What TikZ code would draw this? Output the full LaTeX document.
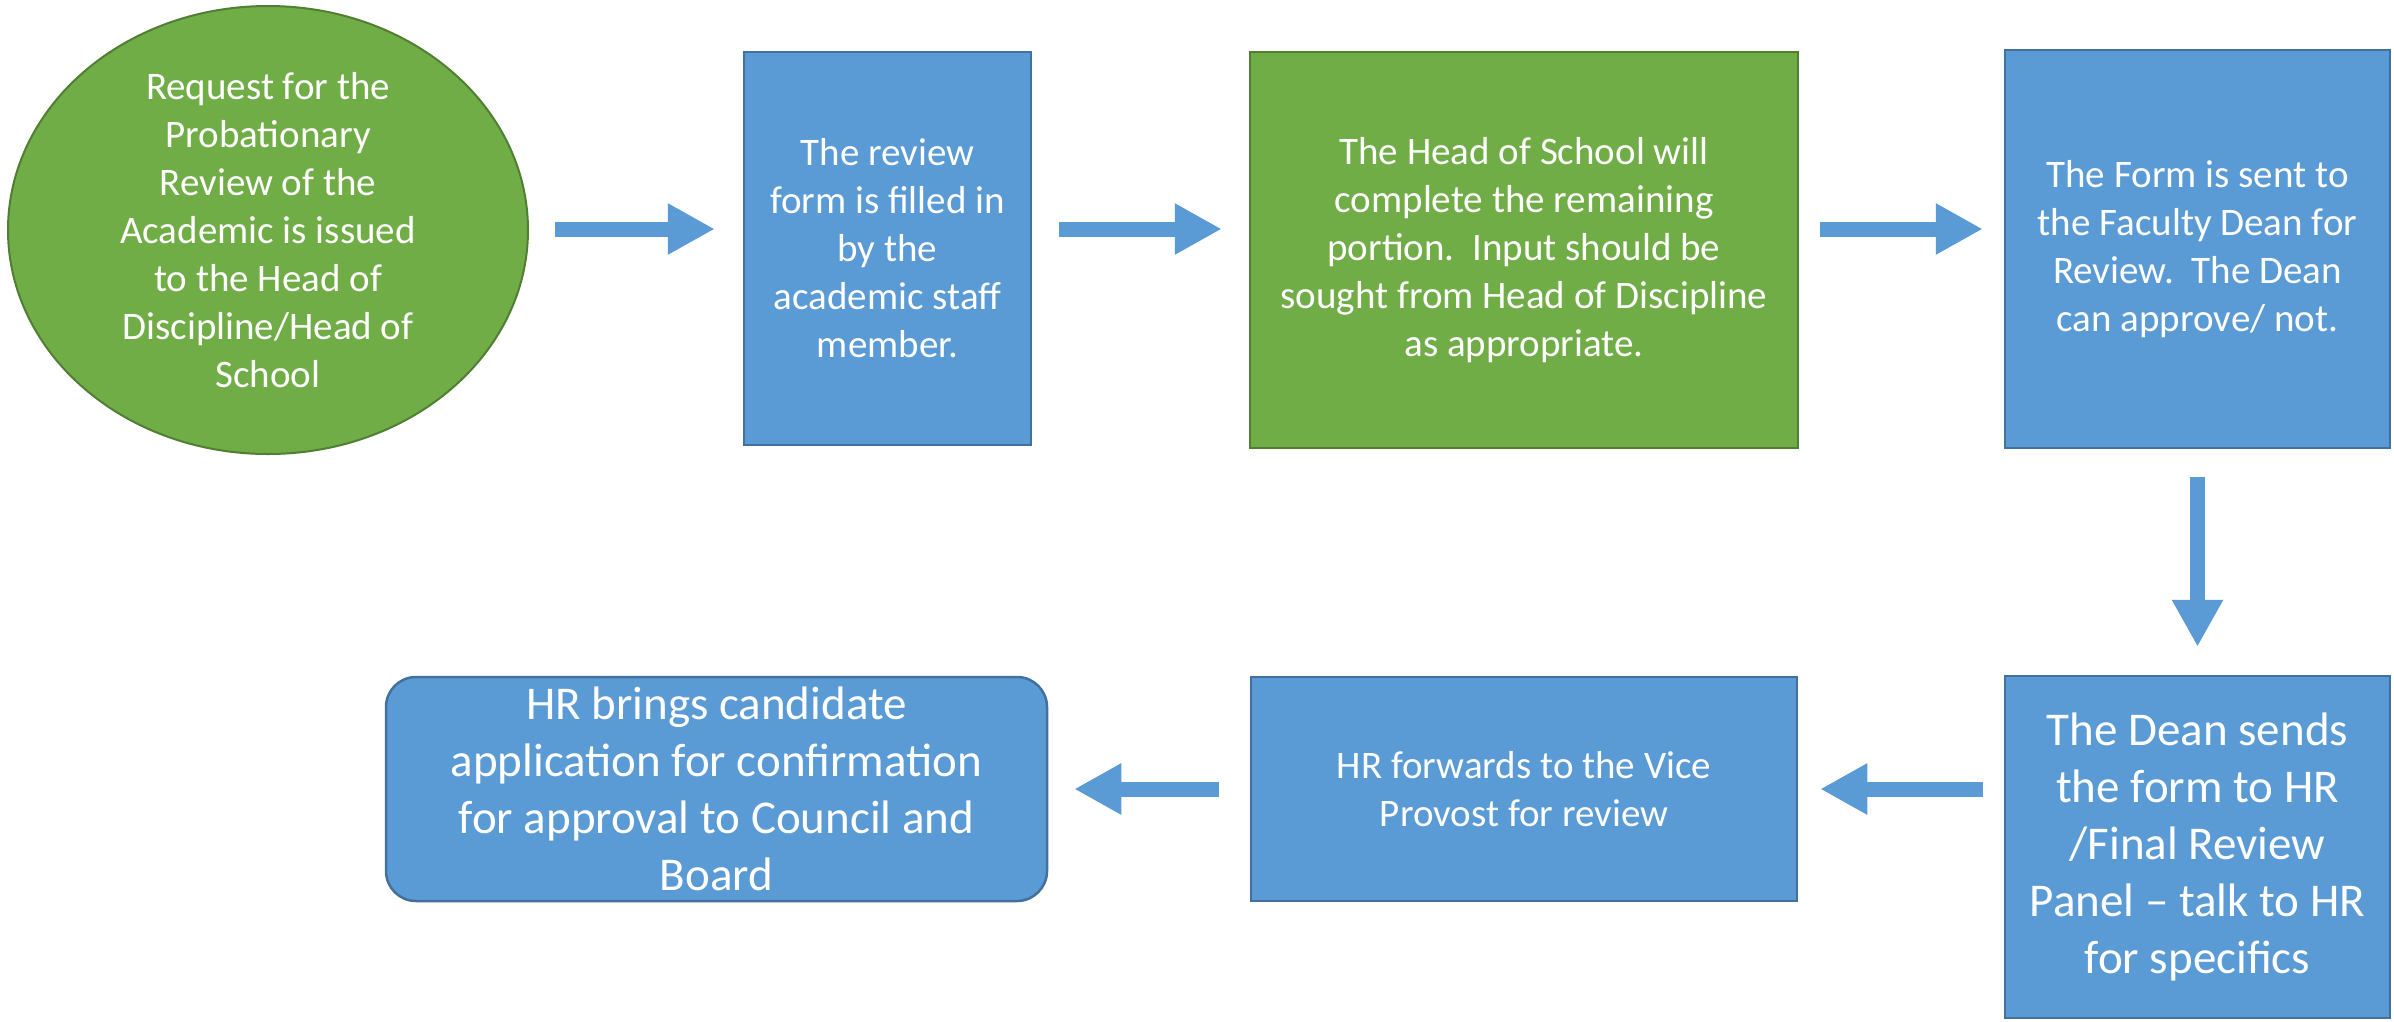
\documentclass[tikz,border=0pt]{standalone}
\usepackage{fontspec}
\setmainfont{Carlito}
\usetikzlibrary{shapes.geometric,arrows.meta}

\definecolor{boxblue}{HTML}{5B9BD5}
\definecolor{boxblueline}{HTML}{41719C}
\definecolor{boxgreen}{HTML}{70AD47}
\definecolor{boxgreenline}{HTML}{507E32}

\tikzset{
  txt/.style={text=white, align=center, inner sep=0pt, font=\fontsize{39}{48}\selectfont},
  bigtxt/.style={text=white, align=center, inner sep=0pt, font=\fontsize{47}{57}\selectfont},
  bluebox/.style={rectangle, fill=boxblue, draw=boxblueline, line width=2.5pt, inner sep=0pt},
  greenbox/.style={rectangle, fill=boxgreen, draw=boxgreenline, line width=2.5pt, inner sep=0pt},
  flowarrow/.style={draw=boxblue, line width=15pt, -{Triangle[length=47pt,width=48pt]}},
}

\begin{document}
\begin{tikzpicture}[x=1pt,y=-1pt]
\useasboundingbox[fill=white] (0,0) rectangle (2394,1021);

% top row
\node[ellipse, fill=boxgreen, draw=boxgreenline, line width=2pt, inner sep=0pt,
      minimum width=520pt, minimum height=448pt] (request) at (268,230) {};
\node[txt] (requestText) at (request.center)
  {Request for the\\Probationary\\Review of the\\Academic is issued\\to the Head of\\Discipline/Head of\\School};

\node[bluebox, txt, minimum width=287pt, minimum height=393pt] (form) at (887.5,248.5)
  {The review\\form is filled in\\by the\\academic staff\\member.};

\node[greenbox, txt, minimum width=548pt, minimum height=396pt] (head) at (1524,250)
  {The Head of School will\\complete the remaining\\portion.\ \ Input should be\\sought from Head of Discipline\\as appropriate.};

\node[bluebox, txt, minimum width=385pt, minimum height=398pt] (dean) at (2197.5,249)
  {The Form is sent to\\the Faculty Dean for\\Review.\ \ The Dean\\can approve/ not.};

% bottom row
\node[bluebox, bigtxt, minimum width=385pt, minimum height=342pt] (sends) at (2197.5,847)
  {The Dean sends\\the form to HR\\/Final Review\\Panel -- talk to HR\\for specifics};

\node[bluebox, txt, minimum width=546pt, minimum height=224pt] (vice) at (1524,789)
  {HR forwards to the Vice\\Provost for review};

\node[bluebox, bigtxt, rounded corners=30pt, minimum width=661pt, minimum height=224pt] (council) at (716.5,789)
  {HR brings candidate\\application for confirmation\\for approval to Council and\\Board};

% block arrows between the steps
\coordinate (rowA) at (0,229);
\draw[flowarrow, shorten <=26pt, shorten >=28pt] (request.east |- rowA) -- (form.west |- rowA);
\draw[flowarrow, shorten <=27pt, shorten >=27pt] (form.east |- rowA) -- (head.west |- rowA);
\draw[flowarrow, shorten <=21pt, shorten >=21pt] (head.east |- rowA) -- (dean.west |- rowA);
\draw[flowarrow, shorten <=28pt, shorten >=28pt] (dean.south) -- (sends.north);
\draw[flowarrow, shorten <=21pt, shorten >=22pt] (sends.west |- vice.east) -- (vice.east);
\draw[flowarrow, shorten <=31pt, shorten >=26pt] (vice.west) -- (council.east);
\end{tikzpicture}
\end{document}
